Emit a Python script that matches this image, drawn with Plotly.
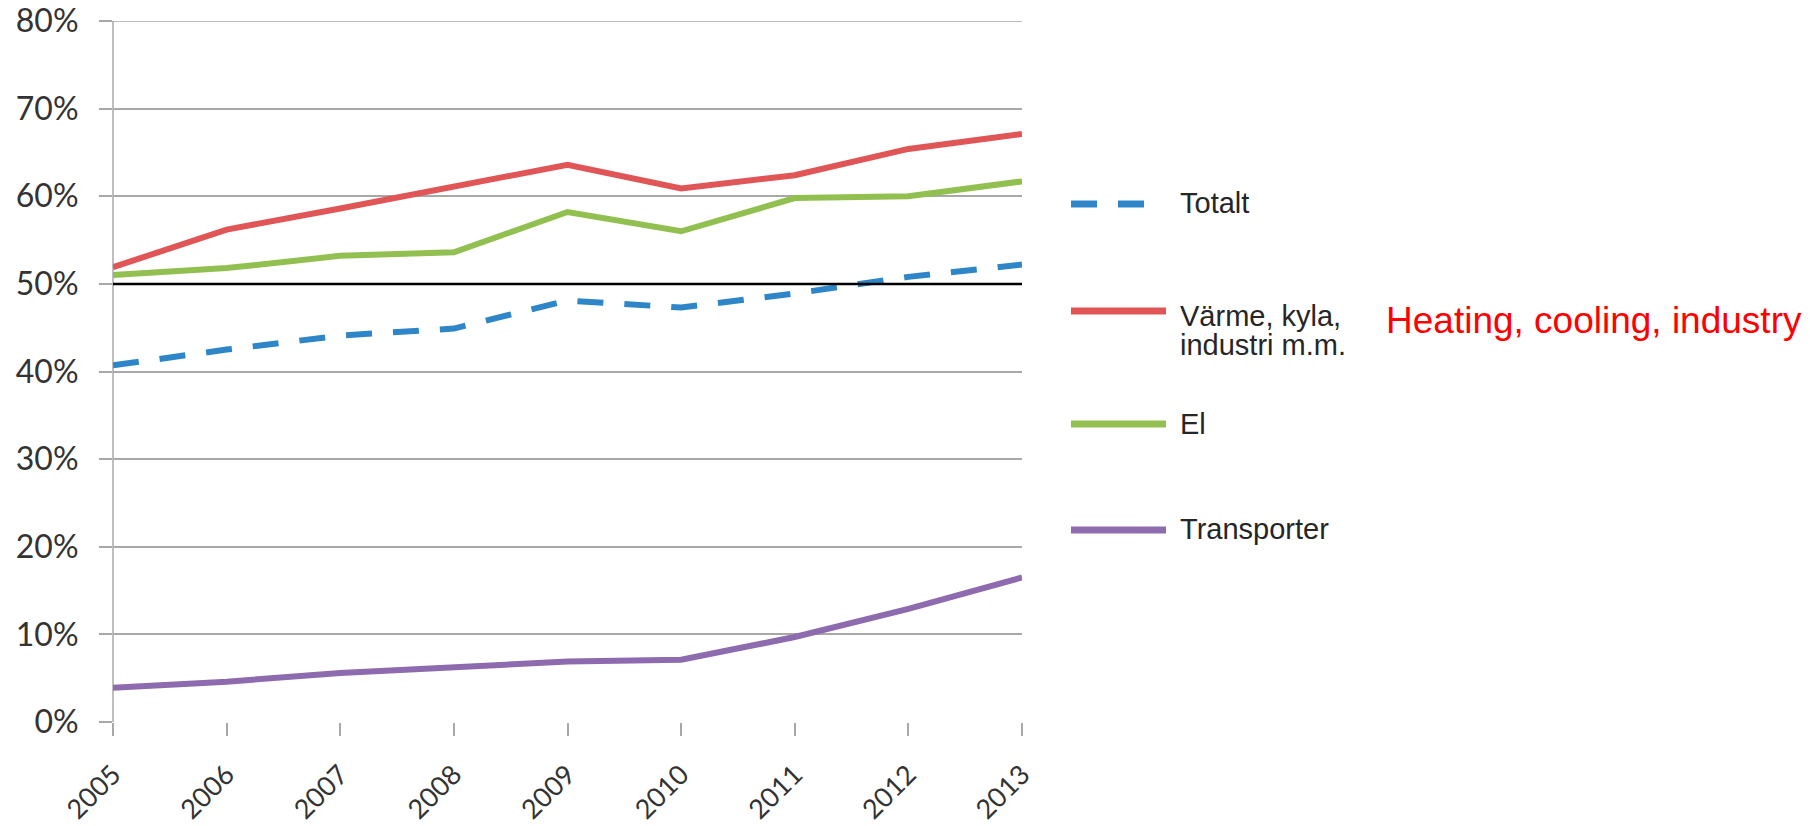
import plotly.graph_objects as go

years = [2005, 2006, 2007, 2008, 2009, 2010, 2011, 2012, 2013]
totalt = [40.7, 42.5, 44.1, 44.9, 48.1, 47.3, 48.9, 50.8, 52.2]
varme = [51.9, 56.2, 58.6, 61.1, 63.6, 60.9, 62.4, 65.4, 67.1]
el = [51.0, 51.8, 53.2, 53.6, 58.2, 56.0, 59.8, 60.0, 61.7]
transporter = [3.9, 4.6, 5.6, 6.2, 6.9, 7.1, 9.7, 12.9, 16.5]
target = 50
y_max = 80

names = ["Totalt", "Värme, kyla,<br>industri m.m.", "El", "Transporter"]
legend_lines = [["Totalt"], ["Värme, kyla,", "industri m.m."], ["El"], ["Transporter"]]
colors = ["#2e86c8", "#e05656", "#92c050", "#8e6aae"]
dashes = ["26px,21px", "solid", "solid", "solid"]
series = [totalt, varme, el, transporter]
note = "Heating, cooling, industry"

W, H = 1810, 826
ML, MR, MT, MB = 113, 788, 21, 104
PW, PH = W - ML - MR, H - MT - MB


def px(x):
    return (x - ML) / PW


def py(y):
    return (H - MB - y) / PH


fig = go.Figure()
for i in [3, 2, 1, 0]:
    fig.add_trace(go.Scatter(
        x=years, y=series[i], mode="lines", name=names[i],
        line=dict(color=colors[i], width=6, dash=dashes[i]),
        showlegend=False, hoverinfo="skip"))

grid_c = "#a8a8a8"
shapes = [
    dict(type="line", xref="paper", x0=0, x1=1, yref="y", y0=target, y1=target,
         line=dict(color="#000000", width=2.5), layer="above"),
    dict(type="line", xref="paper", x0=-13 / PW, x1=1, yref="y", y0=y_max, y1=y_max,
         line=dict(color=grid_c, width=1.5), layer="below"),
    dict(type="line", xref="paper", yref="paper", x0=0, x1=0, y0=0, y1=1,
         line=dict(color=grid_c, width=1.5), layer="below"),
]
annotations = []
leg_y = [204, 311, 424, 530]
leg_x1 = [1147, 1166, 1166, 1166]
text_y = [[203], [316, 345], [424], [529]]
lfont = dict(family="Liberation Sans, Arial", size=29, color="#262626")
for i in range(4):
    shapes.append(dict(type="line", xref="paper", yref="paper",
                       x0=px(1071), x1=px(leg_x1[i]), y0=py(leg_y[i]), y1=py(leg_y[i]),
                       line=dict(color=colors[i], width=7, dash=dashes[i])))
    for t, ty in zip(legend_lines[i], text_y[i]):
        annotations.append(dict(xref="paper", yref="paper", x=px(1178), y=py(ty),
                                xanchor="left", yanchor="middle", showarrow=False,
                                text=t, font=lfont))
annotations.append(dict(xref="paper", yref="paper", x=px(1384), y=py(320),
                        xanchor="left", yanchor="middle", showarrow=False, text=note,
                        font=dict(family="Liberation Sans, Arial", size=37, color="#ff0000")))

fig.update_layout(
    width=W, height=H,
    margin=dict(l=ML, r=MR, t=MT, b=MB, autoexpand=False),
    paper_bgcolor="white", plot_bgcolor="white",
    shapes=shapes, annotations=annotations,
    xaxis=dict(range=[years[0], years[-1]], tickmode="array", tickvals=years,
               ticktext=[str(y) for y in years], tickangle=-45,
               showgrid=False, zeroline=False, showline=False,
               ticks="outside", ticklen=13, tickcolor=grid_c, tickwidth=1.5,
               ticklabelstandoff=12,
               tickfont=dict(family="Lato, Noto Sans", size=27, color="#333333")),
    yaxis=dict(range=[0, y_max], dtick=10, ticksuffix="%",
               showgrid=True, gridcolor=grid_c, gridwidth=1.5, zeroline=False,
               showline=False,
               ticks="outside", ticklen=13, tickcolor=grid_c, tickwidth=1.5,
               ticklabelstandoff=14,
               tickfont=dict(family="Lato, Noto Sans", size=32, color="#333333")),
)
fig.write_html("out.html")
